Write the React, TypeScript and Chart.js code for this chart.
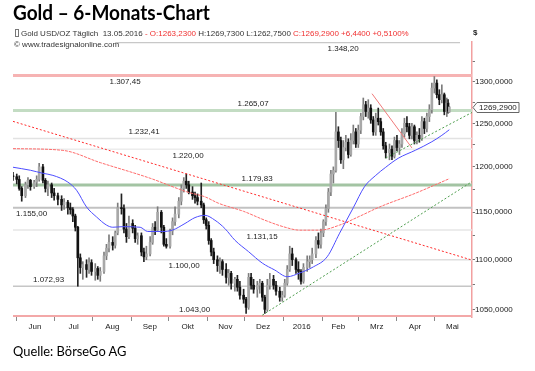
import React, { useEffect, useRef } from "react";
import { Chart, registerables } from "chart.js";
Chart.register(...registerables);

// ---- price data (days since 1 Jun 2015) ----
const days = [-3,0,2,4,7,9,11,14,16,18,21,23,25,28,30,33,36,38,41,43,45,47,49,51,53,56,58,60,63,65,67,70,72,74,77,79,81,84,86,88,90,93,95,97,100,102,104,107,109,111,113,116,118,120,123,125,127,130,132,134,136,138,141,143,145,148,150,152,154,156,158,161,163,165,168,170,172,175,177,179,182,184,186,188,190,193,195,197,199,201,203,206,208,211,213,215,217,219,221,224,226,228,230,233,235,237,240,242,244,246,248,250,252,254,256,258,260,262,264,266,268,270,272,274,276,278,280,282,284,286,288,290,292,294,296,299,301,303,305,307,309,311,313,315,317,319,321,323,325,327,329,331,333,335,337,339,341,343,345,346,347];
const opens = [1190,1189,1186,1176,1168,1180,1185,1178,1183,1186,1200,1185,1176,1180,1171,1168,1164,1158,1161,1155,1153,1146,1134,1102,1092,1095,1090,1097,1088,1091,1084,1088,1104,1112,1118,1115,1128,1155,1154,1132,1124,1138,1133,1122,1125,1108,1103,1106,1118,1134,1131,1150,1134,1116,1114,1130,1140,1148,1162,1176,1184,1180,1172,1168,1166,1162,1158,1142,1136,1120,1108,1100,1094,1098,1090,1082,1086,1076,1080,1072,1064,1060,1052,1082,1074,1070,1074,1076,1062,1050,1074,1080,1074,1068,1062,1064,1076,1090,1106,1100,1090,1088,1078,1092,1098,1100,1106,1120,1116,1128,1140,1154,1172,1192,1196,1240,1230,1208,1222,1228,1214,1230,1240,1226,1242,1258,1272,1264,1268,1254,1240,1256,1252,1240,1224,1216,1220,1212,1230,1222,1226,1238,1250,1246,1236,1246,1230,1236,1232,1252,1244,1258,1266,1292,1298,1284,1278,1284,1264,1274,1263.23];
const highs = [1194,1192,1190,1178,1183,1188,1186,1185,1190,1204,1203,1187,1184,1182,1176,1171,1168,1165,1163,1160,1155,1148,1135,1106,1098,1100,1102,1100,1096,1093,1092,1108,1116,1126,1124,1130,1160,1170,1158,1138,1146,1142,1136,1128,1128,1112,1114,1124,1138,1140,1156,1152,1136,1122,1132,1144,1156,1166,1180,1188,1192,1184,1178,1172,1170,1182,1160,1144,1140,1122,1112,1104,1102,1100,1096,1090,1088,1082,1084,1078,1070,1062,1086,1086,1080,1078,1080,1078,1064,1080,1086,1084,1078,1072,1068,1080,1094,1114,1112,1102,1098,1090,1096,1104,1104,1112,1124,1128,1132,1142,1158,1176,1196,1200,1263,1246,1234,1230,1236,1232,1238,1248,1244,1248,1262,1280,1276,1278,1272,1258,1262,1268,1256,1244,1228,1226,1224,1234,1236,1230,1244,1256,1258,1250,1250,1248,1240,1244,1258,1256,1262,1272,1298,1306,1302,1290,1296,1286,1280,1278,1269.73];
const lows = [1185,1181,1174,1162,1166,1176,1174,1176,1178,1184,1182,1172,1168,1166,1163,1158,1152,1153,1148,1148,1140,1130,1073,1086,1080,1082,1086,1084,1079,1080,1078,1086,1100,1108,1110,1112,1126,1148,1128,1118,1122,1128,1118,1116,1104,1098,1100,1104,1116,1126,1130,1128,1114,1112,1112,1126,1136,1144,1158,1172,1176,1170,1164,1160,1158,1155,1138,1132,1116,1104,1096,1088,1086,1084,1076,1074,1070,1068,1068,1060,1056,1046,1050,1070,1066,1062,1066,1058,1046,1048,1070,1070,1064,1058,1058,1062,1074,1088,1094,1086,1080,1075,1076,1088,1092,1096,1102,1112,1112,1124,1136,1150,1168,1182,1194,1222,1204,1198,1218,1210,1212,1226,1222,1222,1238,1254,1258,1256,1250,1236,1236,1248,1236,1220,1210,1208,1208,1210,1218,1214,1222,1234,1240,1232,1232,1226,1226,1228,1230,1238,1240,1252,1262,1286,1280,1272,1274,1260,1258,1262,1262.75];
const closes = [1189,1186,1176,1168,1180,1185,1178,1183,1186,1200,1185,1176,1180,1171,1168,1164,1158,1161,1155,1153,1146,1134,1102,1092,1095,1090,1097,1088,1091,1084,1088,1104,1112,1118,1115,1128,1155,1154,1132,1124,1138,1133,1122,1125,1108,1103,1106,1118,1134,1131,1150,1134,1116,1114,1130,1140,1148,1162,1176,1184,1180,1172,1168,1166,1162,1158,1142,1136,1120,1108,1100,1094,1098,1090,1082,1086,1076,1080,1072,1064,1060,1052,1082,1074,1070,1074,1076,1062,1050,1074,1080,1074,1068,1062,1064,1076,1090,1106,1100,1090,1088,1078,1092,1098,1100,1106,1120,1116,1128,1140,1154,1172,1192,1196,1240,1230,1208,1222,1228,1214,1230,1240,1226,1242,1258,1272,1264,1268,1254,1240,1256,1252,1240,1224,1216,1220,1212,1230,1222,1226,1238,1250,1246,1236,1246,1230,1236,1232,1252,1244,1258,1266,1292,1298,1284,1278,1284,1264,1274,1264,1269.29];

// ---- moving averages ----
const ma50Days = [-3,11,21,29,41,48,56,64,72,77,85,99,105,117,125,135,143,151,159,167,175,186,197,207,217,227,238,249,259,270,279,288,296,306,320,333,341,347];
const ma50Values = [1199.6,1196.2,1192.8,1190.5,1183,1174,1155.7,1145,1136.3,1134,1134.6,1134,1129.5,1129.5,1131,1138,1144.3,1146.7,1141.5,1132.6,1120.3,1108.3,1096.5,1089.4,1082.6,1086.4,1092.7,1103,1127.7,1155,1178,1190.5,1199.6,1209.7,1219,1228.6,1236,1242.5];
const ma200Days = [-3,37,67,107,137,151,162,182,199,214,227,243,259,275,291,320,347];
const ma200Values = [1220.7,1218.7,1204.8,1187.3,1172,1166.8,1159.7,1151,1141.5,1134.5,1130.9,1130.9,1136.3,1145.7,1155.7,1170.8,1186.8];

// ---- trend lines: [startDay, endDay], [startPrice, endPrice] ----
const trendRedDays = [-3, 365.2];
const trendRedValues = [1252.3, 1099.6];
const trendGreenDays = [197, 365.2];
const trendGreenValues = [1044.3, 1183.5];
const trendGreen2Days = [296, 365.2];
const trendGreen2Values = [1210, 1262.8];
const trendRed2Days = [285, 317];
const trendRed2Values = [1285.2, 1221.5];

// ---- horizontal levels ----
const levelValues = [1348.2, 1307.45, 1265.07, 1232.41, 1220.0, 1179.83, 1155.0, 1131.15, 1100.0, 1072.93, 1043.0];
const levelLabels = ["1.348,20", "1.307,45", "1.265,07", "1.232,41", "1.220,00", "1.179,83", "1.155,00", "1.131,15", "1.100,00", "1.072,93", "1.043,00"];
const levelStartDays = [79, -3, -3, -3, -3, -3, -3, -3, 103, -3, -3];
const levelEndDays = [355.6, 365.2, 365.2, 365.2, 365.2, 365.2, 365.2, 365.2, 365.2, 365.2, 365.2];
const levelLabelDays = [261.8, 86.9, 189.6, 102.1, 137.4, 192.8, 11.9, 196.8, 134.2, 25.5, 142.6];

// ---- axes ----
const monthStartDays = [0, 30, 61, 92, 122, 153, 183, 214, 245, 274, 305, 335];
const monthMidDays = [14.7, 45.7, 76.7, 106.7, 137.2, 167.3, 197.6, 228.6, 258, 288.8, 319.5, 349.5];
const monthLabels = ["Jun", "Jul", "Aug", "Sep", "Okt", "Nov", "Dez", "2016", "Feb", "Mrz", "Apr", "Mai"];
const yMajorTicks = [1050, 1100, 1150, 1200, 1250, 1300];
const yMinorTicks = [1075, 1125, 1175, 1225, 1275, 1325];
const lastPrice = 1269.29;

const levelStyles = [
  { color: "#c8c8c8", width: 1.2, side: 1 },
  { color: "#f6b3b3", width: 3, side: 1 },
  { color: "#c3dcc3", width: 3, side: -1 },
  { color: "#e2e2e2", width: 1.5, side: -1 },
  { color: "#ececec", width: 1.5, side: 1 },
  { color: "#a3c4a3", width: 3, side: -1 },
  { color: "#c2c2c2", width: 2, side: 1 },
  { color: "#e6e6e6", width: 1.5, side: 1 },
  { color: "#dedede", width: 1.5, side: 1 },
  { color: "#c6c6c6", width: 1.5, side: -1 },
  { color: "#f3a8a8", width: 3, side: -1 },
];

const fmtAxis = (v: number) => v.toFixed(4).replace(".", ",");

export default function App() {
  const ref = useRef<HTMLCanvasElement>(null);
  useEffect(() => {
    if (!ref.current) return;
    const up = closes.map((c, i) => c >= opens[i]);
    const lineDs = (label: string, xs: number[], ys: number[], color: string, width: number, dash: number[], order: number, extra: any = {}) => ({
      type: "line" as const,
      label,
      data: xs.map((x, i) => ({ x, y: ys[i] })),
      borderColor: color,
      borderWidth: width,
      borderDash: dash,
      pointRadius: 0,
      fill: false,
      order,
      ...extra,
    });
    const levelDatasets = levelValues.map((v, i) =>
      lineDs("lvl" + i, [levelStartDays[i], levelEndDays[i]], [v, v], levelStyles[i].color, levelStyles[i].width, [], 20)
    );
    const overlay = {
      id: "overlay",
      afterDatasetsDraw(chart: any) {
        const { ctx, scales } = chart;
        const x = scales.x, y = scales.y;
        ctx.save();
        ctx.font = '8px "Liberation Sans", Arial, sans-serif';
        ctx.fillStyle = "#222";
        ctx.textAlign = "center";
        ctx.textBaseline = "middle";
        levelValues.forEach((v, i) => {
          const py = y.getPixelForValue(v) + levelStyles[i].side * 6.5;
          ctx.fillText(levelLabels[i], x.getPixelForValue(levelLabelDays[i]), py);
        });
        // current price box
        const py = Math.round(y.getPixelForValue(lastPrice)) + 0.5;
        const left = chart.chartArea.right + 1;
        ctx.beginPath();
        ctx.moveTo(left, py);
        ctx.lineTo(left + 4, py - 5);
        ctx.lineTo(left + 46, py - 5);
        ctx.lineTo(left + 46, py + 5);
        ctx.lineTo(left + 4, py + 5);
        ctx.closePath();
        ctx.fillStyle = "#fff";
        ctx.fill();
        ctx.strokeStyle = "#666";
        ctx.lineWidth = 1;
        ctx.stroke();
        ctx.fillStyle = "#222";
        ctx.textAlign = "left";
        ctx.fillText(fmtAxis(lastPrice), left + 6, py);
        // currency
        ctx.font = 'bold 8px "Liberation Sans", Arial, sans-serif';
        ctx.fillText("$", chart.chartArea.right + 1, 33);
        ctx.restore();
      },
    };
    const chart = new Chart(ref.current, {
      type: "bar",
      data: {
        datasets: [
          ...levelDatasets,
          {
            type: "bar",
            label: "wick",
            data: days.map((d, i) => ({ x: d, y: [lows[i], highs[i]] })) as any,
            backgroundColor: up.map((u) => (u ? "#7c7c7c" : "#222222")),
            barThickness: 1,
            grouped: false,
            order: 10,
          },
          {
            type: "bar",
            label: "body",
            data: days.map((d, i) => ({ x: d, y: [opens[i], closes[i]] })) as any,
            backgroundColor: up.map((u) => (u ? "#a8a8a8" : "#111111")),
            barThickness: 2,
            grouped: false,
            order: 9,
          },
          lineDs("ma200", ma200Days, ma200Values, "#ff6b6b", 1, [3, 1], 3, { cubicInterpolationMode: "monotone" }),
          lineDs("ma50", ma50Days, ma50Values, "#4d4dff", 1, [], 2, { cubicInterpolationMode: "monotone" }),
          lineDs("trendRed", trendRedDays, trendRedValues, "#ff2a2a", 1, [2, 2], 4),
          lineDs("trendGreen", trendGreenDays, trendGreenValues, "#4f9e4f", 1, [2, 2], 4),
          lineDs("trendGreen2", trendGreen2Days, trendGreen2Values, "#4f9e4f", 1, [2, 2], 4),
          lineDs("trendRed2", trendRed2Days, trendRed2Values, "#f07a7a", 1, [], 4),
        ] as any,
      },
      options: {
        responsive: false,
        animation: false,
        devicePixelRatio: 1,
        layout: { padding: { left: 13, top: 42, right: 0, bottom: 34 } },
        plugins: { legend: { display: false }, tooltip: { enabled: false }, title: { display: false } },
        scales: {
          x: {
            type: "linear",
            min: -3,
            max: 365.2,
            offset: false,
            position: "bottom",
            afterFit: (s: any) => { s.height = 20; },
            afterBuildTicks: (s: any) => {
              const t = [
                ...monthStartDays.map((v) => ({ value: v, major: true })),
                ...monthMidDays.map((v) => ({ value: v, major: false })),
              ].sort((a, b) => a.value - b.value);
              s.ticks = t;
            },
            border: { display: false },
            grid: {
              offset: false,
              drawOnChartArea: false,
              drawTicks: true,
              tickLength: 4,
              tickColor: (ctx: any) => (ctx.tick && monthStartDays.includes(ctx.tick.value) ? "#8a8a8a" : "rgba(0,0,0,0)"),
            },
            ticks: {
              autoSkip: false,
              maxRotation: 0,
              padding: 1,
              color: "#222",
              font: { family: '"Liberation Sans", Arial, sans-serif', size: 8 },
              callback: (v: any) => {
                const i = monthMidDays.indexOf(Number(v));
                return i >= 0 ? monthLabels[i] : "";
              },
            },
          },
          y: {
            type: "logarithmic",
            position: "right",
            min: 1042.5,
            max: 1349,
            afterFit: (s: any) => { s.width = 63; },
            afterBuildTicks: (s: any) => {
              s.ticks = [...yMajorTicks, ...yMinorTicks].sort((a, b) => a - b).map((v) => ({ value: v }));
            },
            border: { display: true, color: "#f2a0a0", width: 1.5 },
            grid: { drawOnChartArea: false, drawTicks: true, tickLength: 3, tickColor: "#777" },
            ticks: {
              autoSkip: false,
              padding: 0,
              color: "#222",
              font: { family: '"Liberation Sans", Arial, sans-serif', size: 8 },
              callback: (v: any) => (yMajorTicks.includes(Number(v)) ? fmtAxis(Number(v)) : ""),
            },
          },
        },
      } as any,
      plugins: [overlay],
    });
    return () => chart.destroy();
  }, []);

  const small: React.CSSProperties = {
    position: "absolute",
    font: '8px "Liberation Sans", Arial, sans-serif',
    color: "#333",
    whiteSpace: "pre",
    lineHeight: "10px",
  };
  return (
    <div style={{ position: "absolute", left: 0, top: 0, width: 535, height: 371, background: "#fff", overflow: "hidden" }}>
      <canvas ref={ref} width={535} height={371} style={{ position: "absolute", left: 0, top: 0, width: 535, height: 371 }} />
      <div style={{ position: "absolute", left: 13, top: 0, font: 'bold 20px Lato, "Open Sans", sans-serif', lineHeight: "24px", color: "#000", whiteSpace: "pre", transform: "scaleX(0.95)", transformOrigin: "left top" }}>
        Gold – 6-Monats-Chart
      </div>
      <div style={{ ...small, left: 15, top: 29 }}>
        <span style={{ display: "inline-block", width: 2, height: 6, border: "1px solid #777", marginRight: 2, verticalAlign: "-1px" }} />
        <span>{"Gold USD/OZ Täglich  13.05.2016 "}</span>
        <span style={{ color: "#f03030" }}>{"- O:1263,2300 "}</span>
        <span>{"H:1269,7300 L:1262,7500 "}</span>
        <span style={{ color: "#f03030" }}>{"C:1269,2900 +6,4400 +0,5100%"}</span>
      </div>
      <div style={{ ...small, left: 14, top: 39.5 }}>© www.tradesignalonline.com</div>
      <div style={{ position: "absolute", left: 13, top: 342, font: '14px Lato, "Open Sans", sans-serif', lineHeight: "17px", color: "#000", whiteSpace: "pre", transform: "scaleX(0.92)", transformOrigin: "left top" }}>
        Quelle: BörseGo AG
      </div>
    </div>
  );
}
